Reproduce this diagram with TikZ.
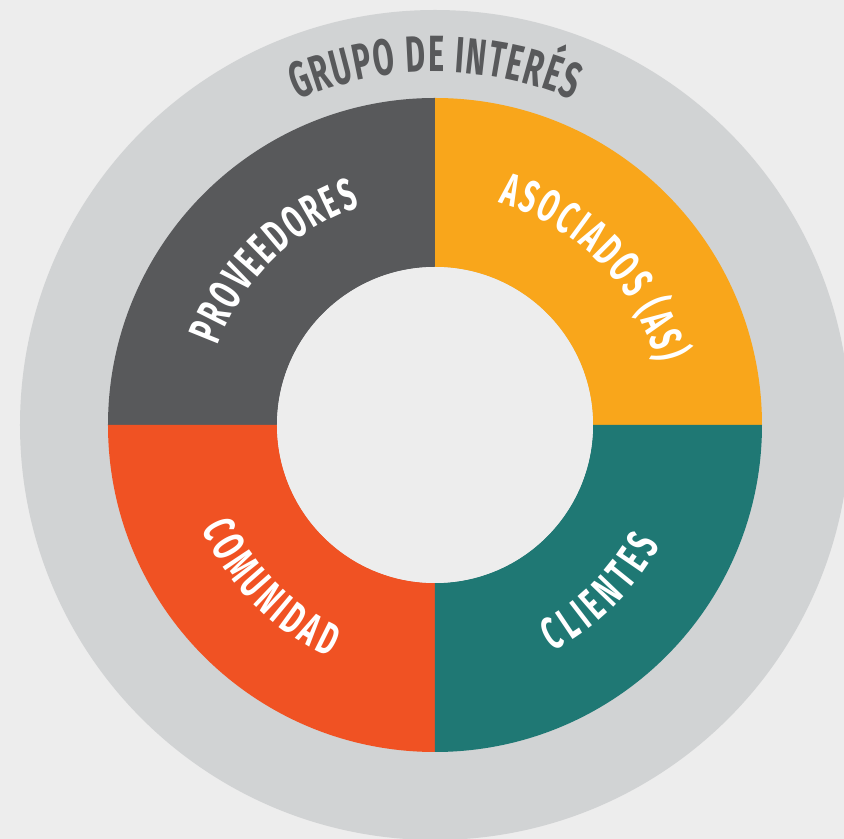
\documentclass[tikz,border=0pt]{standalone}
\usepackage{fontspec}
\usetikzlibrary{decorations.text}
\newfontfamily\ringfont{Fira Sans}[FakeStretch=0.6]
\definecolor{bgc}{HTML}{EDEDED}
\definecolor{outg}{HTML}{D1D3D4}
\definecolor{dg}{HTML}{58595B}
\definecolor{yel}{HTML}{F9A61B}
\definecolor{teal}{HTML}{1F7874}
\definecolor{redo}{HTML}{F05223}
\newcommand{\innerfmt}{\ringfont\bfseries\fontsize{26}{26}\selectfont\color{white}}
\newcommand{\titlefmt}{\ringfont\bfseries\fontsize{29}{29}\selectfont\color{dg}}
\tikzset{
  sector/.style={draw=none},
  arctext/.style={decorate, decoration={text along path, text align={fit to path}, text={#1}}}
}
\begin{document}
\begin{tikzpicture}
\useasboundingbox (-8.70,-8.28) rectangle (8.18,8.50);
\clip (-8.70,-8.28) rectangle (8.18,8.50);
\fill[bgc] (-8.70,-8.28) rectangle (8.18,8.50);
\fill[outg] (0,0) circle (8.3);
\fill[sector, yel] (0:3.16) -- (0:6.54) arc (0:90:6.54) -- (90:3.16) arc (90:0:3.16) -- cycle;
\fill[sector, dg] (90:3.16) -- (90:6.54) arc (90:180:6.54) -- (180:3.16) arc (180:90:3.16) -- cycle;
\fill[sector, redo] (180:3.16) -- (180:6.54) arc (180:270:6.54) -- (270:3.16) arc (270:180:3.16) -- cycle;
\fill[sector, teal] (270:3.16) -- (270:6.54) arc (270:360:6.54) -- (360:3.16) arc (360:270:3.16) -- cycle;
\fill[bgc] (0,0) circle (3.16);
\path[arctext={|\titlefmt|GRUPO DE INTERÉS}] (113:7.06) arc (113:67:7.06);
\path[arctext={|\innerfmt|PROVEEDORES}] (160:4.62) arc (160:109:4.62);
\path[arctext={|\innerfmt|ASOCIADOS (AS)}] (74:4.62) arc (74:15.5:4.62);
\path[arctext={|\innerfmt|COMUNIDAD}] (204:5.10) arc (204:245.5:5.10);
\path[arctext={|\innerfmt|CLIENTES}] (297.5:5.10) arc (297.5:332:5.10);
\end{tikzpicture}
\end{document}
